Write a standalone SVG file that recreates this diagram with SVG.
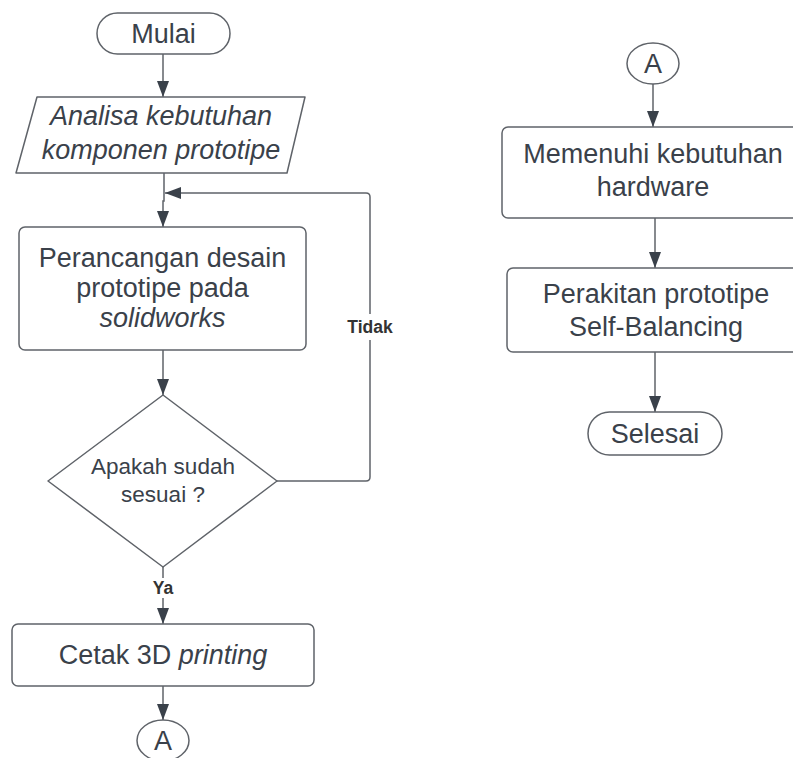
<svg xmlns="http://www.w3.org/2000/svg" width="793" height="758" viewBox="0 0 793 758">
<style>
.shape{fill:#ffffff;stroke:#5f6369;stroke-width:1.5}
.t{font-family:"Liberation Sans",Arial,sans-serif;font-size:27px;fill:#3a414a;text-anchor:middle}
.i{font-style:italic}
.d{font-size:22.5px}
.lbl{font-family:"Liberation Sans",Arial,sans-serif;font-size:17.5px;font-weight:bold;fill:#333333;text-anchor:middle}
.c{fill:none;stroke:#5f6369;stroke-width:1.5}
</style>
<defs>
<marker id="ah" viewBox="0 0 16 12" refX="16" refY="6" markerWidth="16" markerHeight="12" markerUnits="userSpaceOnUse" orient="auto">
<path d="M0,0 L16,6 L0,12 Z" fill="#3a414a"/>
</marker>
</defs>
<rect width="793" height="758" fill="#ffffff"/>
<g id="connectors">
<line class="c" x1="163" y1="54" x2="163" y2="97" marker-end="url(#ah)"/>
<path class="c" d="M164,173 V201 H163 V227" marker-end="url(#ah)"/>
<line class="c" x1="163" y1="350" x2="163" y2="395" marker-end="url(#ah)"/>
<path class="c" d="M277,481 H366 Q370,481 370,477 V197 Q370,193 366,193 H165" marker-end="url(#ah)"/>
<rect x="345" y="314" width="50" height="26" fill="#ffffff"/>
<text class="lbl" x="370" y="333">Tidak</text>
<line class="c" x1="163" y1="567" x2="163" y2="624" marker-end="url(#ah)"/>
<rect x="148" y="578" width="30" height="20" fill="#ffffff"/>
<text class="lbl" x="163" y="594">Ya</text>
<line class="c" x1="163" y1="686" x2="163" y2="720" marker-end="url(#ah)"/>
<line class="c" x1="653" y1="84" x2="653" y2="127" marker-end="url(#ah)"/>
<line class="c" x1="655" y1="218" x2="655" y2="268" marker-end="url(#ah)"/>
<line class="c" x1="655" y1="352" x2="655" y2="412" marker-end="url(#ah)"/>
</g>
<g id="mulai">
<rect class="shape" x="97" y="13" width="133" height="41" rx="20.5"/>
<text class="t" x="163.5" y="43">Mulai</text>
</g>
<g id="analisa">
<path class="shape" d="M37,97 L305,97 L287,173 L16,173 Z" stroke-linejoin="round"/>
<text class="t i" x="161" y="125">Analisa kebutuhan</text>
<text class="t i" x="161" y="159">komponen prototipe</text>
</g>
<g id="perancangan">
<rect class="shape" x="19" y="227" width="287" height="123" rx="6"/>
<text class="t" x="162.5" y="267">Perancangan desain</text>
<text class="t" x="162.5" y="297">prototipe pada</text>
<text class="t i" x="162.5" y="327">solidworks</text>
</g>
<g id="keputusan">
<path class="shape" d="M163,395 L277,481 L163,567 L48,481 Z" stroke-linejoin="round"/>
<text class="t d" x="163" y="474">Apakah sudah</text>
<text class="t d" x="163" y="502">sesuai ?</text>
</g>
<g id="cetak">
<rect class="shape" x="12" y="624" width="302" height="62" rx="6"/>
<text class="t" x="163" y="664">Cetak 3D <tspan class="i">printing</tspan></text>
</g>
<g id="konektor-a-bawah">
<ellipse class="shape" cx="163" cy="740.5" rx="26" ry="20.5"/>
<text class="t" x="163" y="750">A</text>
</g>
<g id="konektor-a-atas">
<ellipse class="shape" cx="653" cy="63.5" rx="26" ry="20.5"/>
<text class="t" x="653" y="73">A</text>
</g>
<g id="memenuhi">
<rect class="shape" x="502" y="127" width="302" height="91" rx="6"/>
<text class="t" x="653" y="163">Memenuhi kebutuhan</text>
<text class="t" x="653" y="196">hardware</text>
</g>
<g id="perakitan">
<rect class="shape" x="507" y="268" width="297" height="84" rx="6"/>
<text class="t" x="656" y="303">Perakitan prototipe</text>
<text class="t" x="656" y="336">Self-Balancing</text>
</g>
<g id="selesai">
<rect class="shape" x="588" y="412" width="134" height="43" rx="21.5"/>
<text class="t" x="655" y="443">Selesai</text>
</g>
</svg>
